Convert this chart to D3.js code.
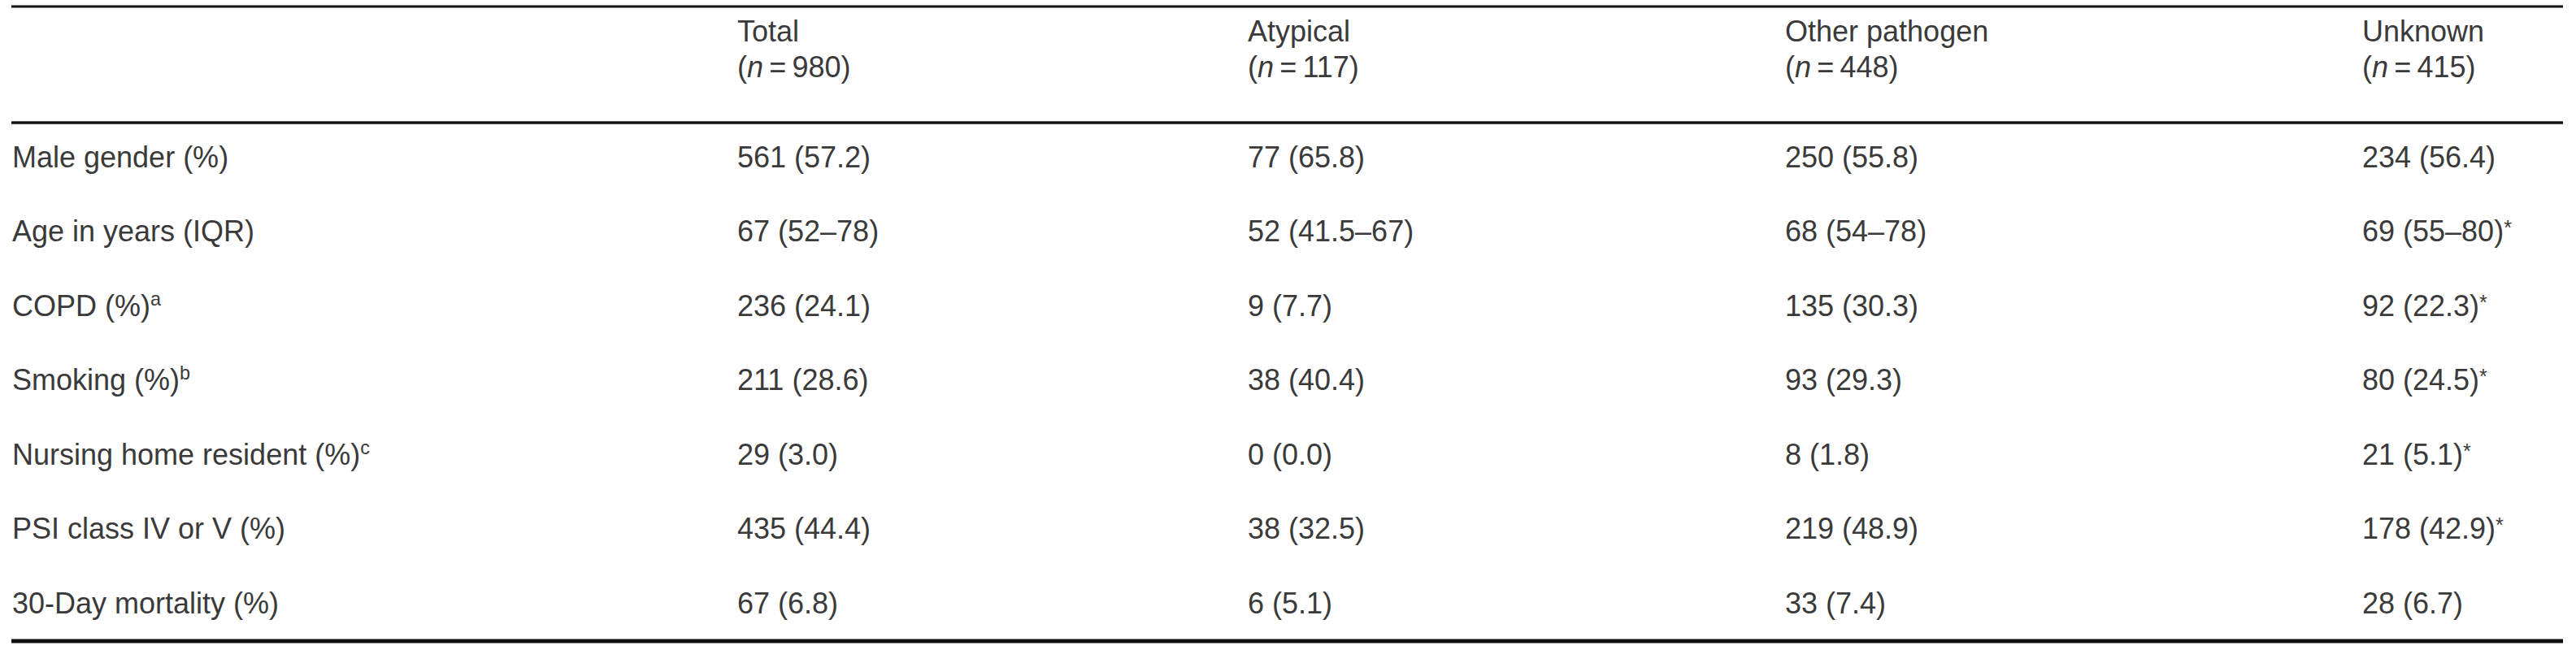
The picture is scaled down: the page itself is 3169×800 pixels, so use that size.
<!DOCTYPE html>
<html>
<head>
<meta charset="utf-8">
<script src="https://cdn.jsdelivr.net/npm/d3@7"></script>
<style>
  body { margin: 0; background: #fff; }
  text { font-family: "Liberation Sans Narrow", "Liberation Sans", Arial, sans-serif; fill: #3a3a3a; }
</style>
</head>
<body>
<svg id="chart" width="3169" height="800"></svg>
<script>
const groups = ['Total', 'Atypical', 'Other pathogen', 'Unknown'];
const groupN = [980, 117, 448, 415];
const rowLabels = ['Male gender (%)', 'Age in years (IQR)', 'COPD (%)', 'Smoking (%)', 'Nursing home resident (%)', 'PSI class IV or V (%)', '30-Day mortality (%)'];
const rowNotes = ['', '', 'a', 'b', 'c', '', ''];
const totalVals = ['561 (57.2)', '67 (52\u201378)', '236 (24.1)', '211 (28.6)', '29 (3.0)', '435 (44.4)', '67 (6.8)'];
const atypicalVals = ['77 (65.8)', '52 (41.5\u201367)', '9 (7.7)', '38 (40.4)', '0 (0.0)', '38 (32.5)', '6 (5.1)'];
const otherVals = ['250 (55.8)', '68 (54\u201378)', '135 (30.3)', '93 (29.3)', '8 (1.8)', '219 (48.9)', '33 (7.4)'];
const unknownVals = ['234 (56.4)', '69 (55\u201380)', '92 (22.3)', '80 (24.5)', '21 (5.1)', '178 (42.9)', '28 (6.7)'];
const unknownStar = [false, true, true, true, true, true, false];

const columns = [totalVals, atypicalVals, otherVals, unknownVals];
const fs = 36;
const svg = d3.select('#chart');

const x = d3.scaleOrdinal().domain(['label'].concat(groups)).range([15, 907, 1535, 2196, 2906]);
const y = d3.scalePoint().domain(rowLabels).range([193, 742]);

// rules
[[8, 3], [151, 3.5], [789, 5]].forEach(([yy, w]) => {
  svg.append('line').attr('x1', 14).attr('x2', 3153).attr('y1', yy).attr('y2', yy)
    .attr('stroke', '#111').attr('stroke-width', w);
});

// header
const head = svg.append('g');
groups.forEach((g, i) => {
  head.append('text').attr('x', x(g)).attr('y', 38).attr('dy', '0.35em')
    .attr('font-size', fs).text(g);
  const t = head.append('text').attr('x', x(g)).attr('y', 82).attr('dy', '0.35em').attr('font-size', fs);
  t.append('tspan').text('(');
  t.append('tspan').attr('font-style', 'italic').text('n');
  t.append('tspan').text('\u2009=\u2009' + groupN[i] + ')');
});

// body rows
const rows = svg.append('g').selectAll('g').data(rowLabels).join('g')
  .attr('transform', d => `translate(0,${y(d)})`);

rows.append('text').attr('x', x('label')).attr('dy', '0.35em').attr('font-size', fs)
  .each(function(d, i) {
    const t = d3.select(this);
    t.append('tspan').text(d);
    if (rowNotes[i]) t.append('tspan').attr('font-size', fs * 0.65).attr('dy', -13).text(rowNotes[i]);
  });

columns.forEach((vals, c) => {
  rows.append('text').attr('x', x(groups[c])).attr('dy', '0.35em').attr('font-size', fs)
    .each(function(d, i) {
      const t = d3.select(this);
      t.append('tspan').text(vals[i]);
      if (c === 3 && unknownStar[i]) t.append('tspan').attr('font-size', fs * 0.7).attr('dy', -8).text('*');
    });
});
</script>
</body>
</html>
